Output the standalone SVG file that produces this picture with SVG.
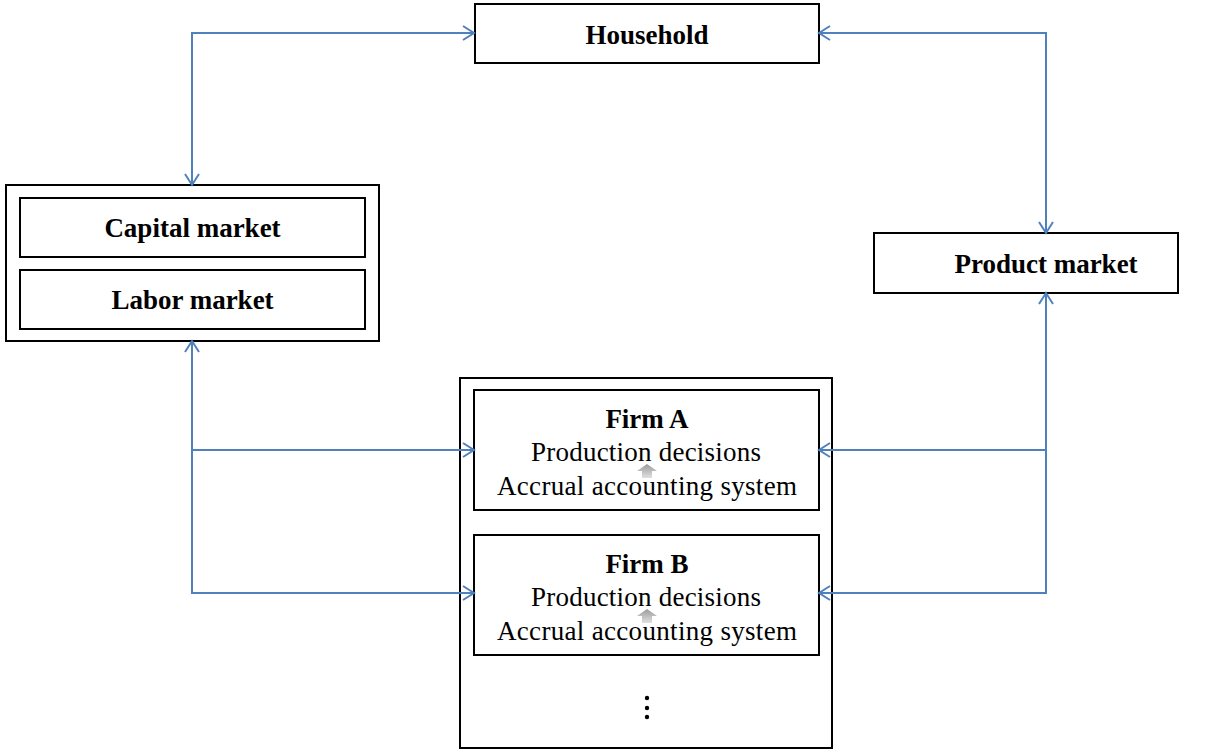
<svg xmlns="http://www.w3.org/2000/svg" width="1215" height="755" viewBox="0 0 1215 755">
<style>
.box{fill:#fff;stroke:#000;stroke-width:2}
.conn{fill:none;stroke:#4F81BD;stroke-width:2}
.b{font-family:"Liberation Serif",serif;font-weight:bold;font-size:27px;text-anchor:middle;fill:#000}
.r{font-family:"Liberation Serif",serif;font-size:27px;text-anchor:middle;fill:#000}
</style>
<defs>
<marker id="ah" markerWidth="14" markerHeight="16" refX="12" refY="8" orient="auto-start-reverse" markerUnits="userSpaceOnUse">
<path d="M1,1 L12,8 L1,15" fill="none" stroke="#4F81BD" stroke-width="2"/>
</marker>
<linearGradient id="ga" x1="0" y1="0" x2="0" y2="1">
<stop offset="0" stop-color="#9a9a9a"/>
<stop offset="1" stop-color="#e0e0e0"/>
</linearGradient>
</defs>
<rect width="1215" height="755" fill="#fff"/>
<g id="household">
<rect class="box" x="475" y="4" width="344" height="59"/>
<text class="b" x="647" y="44">Household</text>
</g>
<g id="factor-markets">
<rect class="box" x="6" y="185" width="373" height="156"/>
<g id="capital-market">
<rect class="box" x="20" y="198" width="345" height="59"/>
<text class="b" x="192.500" y="237">Capital market</text>
</g>
<g id="labor-market">
<rect class="box" x="20" y="270" width="345" height="59"/>
<text class="b" x="192.500" y="309">Labor market</text>
</g>
</g>
<g id="product-market">
<rect class="box" x="874" y="233" width="304" height="60"/>
<text class="b" x="1046" y="273">Product market</text>
</g>
<g id="firms">
<rect class="box" x="460" y="378" width="372" height="370"/>
<g id="firm-a">
<rect class="box" x="474" y="390" width="345" height="120"/>
<text class="b" x="647" y="428">Firm A</text>
<text class="r" x="646" y="461" textLength="230" lengthAdjust="spacing">Production decisions</text>
<path d="M647,464 L657,471 L652,471 L652,478 L642,478 L642,471 L637,471 Z" fill="url(#ga)"/>
<text class="r" x="647" y="495" textLength="300" lengthAdjust="spacing">Accrual accounting system</text>
</g>
<g id="firm-b">
<rect class="box" x="474" y="535" width="345" height="120"/>
<text class="b" x="647" y="573">Firm B</text>
<text class="r" x="646" y="606" textLength="230" lengthAdjust="spacing">Production decisions</text>
<path d="M647,609 L657,616 L652,616 L652,623 L642,623 L642,616 L637,616 Z" fill="url(#ga)"/>
<text class="r" x="647" y="640" textLength="300" lengthAdjust="spacing">Accrual accounting system</text>
</g>
<g id="ellipsis">
<circle cx="647" cy="698" r="2.200" fill="#000"/>
<circle cx="647" cy="708" r="2.200" fill="#000"/>
<circle cx="647" cy="717" r="2.200" fill="#000"/>
</g>
</g>
<g id="connectors">
<path class="conn" d="M474,33 H192 V185" marker-start="url(#ah)" marker-end="url(#ah)"/>
<path class="conn" d="M819,33 H1046 V233" marker-start="url(#ah)" marker-end="url(#ah)"/>
<path class="conn" d="M1046,293 V593 H819" marker-start="url(#ah)" marker-end="url(#ah)"/>
<path class="conn" d="M1046,450 H819" marker-end="url(#ah)"/>
<path class="conn" d="M192,341 V593 H474" marker-start="url(#ah)" marker-end="url(#ah)"/>
<path class="conn" d="M192,450 H474" marker-end="url(#ah)"/>
</g>
</svg>
